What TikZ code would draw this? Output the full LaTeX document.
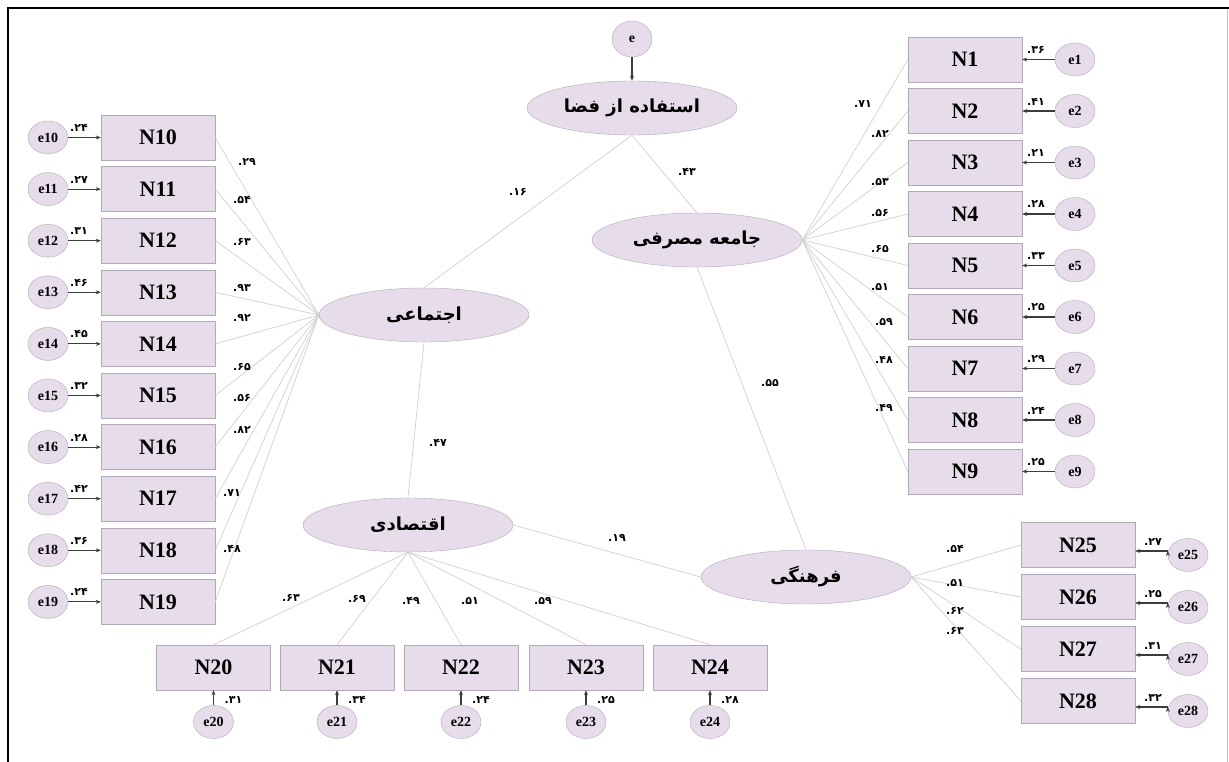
\documentclass[tikz,border=0pt]{standalone}
\usepackage{fontspec}
\setmainfont{Liberation Serif}
\newfontfamily\farsifont[Script=Arabic]{DejaVu Sans}
\newfontfamily\digitfont{DejaVu Sans}
\TeXXeTstate=1
\usetikzlibrary{arrows.meta, shapes.geometric}
\definecolor{boxfill}{RGB}{231,221,234}
\definecolor{boxline}{RGB}{178,168,184}
\definecolor{pathgray}{RGB}{208,208,208}
\definecolor{errgray}{RGB}{60,60,60}
\newcommand{\rtltxt}[1]{\beginR #1\endR}
\tikzset{
  obs/.style={rectangle, draw=boxline, fill=boxfill, minimum width=114pt, minimum height=45pt, font=\fontsize{22}{22}\selectfont\bfseries},
  latent/.style={ellipse, draw=boxline, fill=boxfill, minimum width=210pt, minimum height=54pt, font=\farsifont\fontsize{18}{18}\selectfont\bfseries},
  err/.style={ellipse, draw=boxline, fill=boxfill, minimum width=40pt, minimum height=33pt, inner sep=0pt, font=\fontsize{14}{14}\selectfont\bfseries},
  coef/.style={inner sep=1pt, font=\digitfont\fontsize{11}{11}\selectfont\bfseries},
  loadline/.style={draw=pathgray, line width=0.7pt},
  errarrow/.style={draw=errgray, line width=1.1pt, -{Stealth[length=5pt, width=4pt]}},
}
\begin{document}
\begin{tikzpicture}[x=1pt, y=-1pt]
\useasboundingbox (0,0) rectangle (1229,762);
\draw[line width=2pt] (1229,8) -- (8,8) -- (8,762);
\draw[gray!50] (1227,9) -- (1227,762);

\node[latent] (fazaa) at (632,108) {\rtltxt{استفاده از فضا}};
\node[latent] (jameh) at (697,240) {\rtltxt{جامعه مصرفی}};
\node[latent] (ejtemai) at (424,315) {\rtltxt{اجتماعی}};
\node[latent] (eghtesadi) at (408,525) {\rtltxt{اقتصادی}};
\node[latent] (farhangi) at (806,577) {\rtltxt{فرهنگی}};
\node[err, minimum height=36pt] (e) at (632,39) {e};
\path[errarrow] (e) edge (fazaa);

\path[loadline] (fazaa.south) edge (ejtemai.north)
                (fazaa.south) edge (jameh.north)
                (jameh.south) edge (farhangi.north)
                (ejtemai.south) edge (eghtesadi.north)
                (eghtesadi.east) edge (farhangi.west);
\node[coef] (p1) at (518,192) {.۱۶};
\node[coef] (p2) at (687,172) {.۴۳};
\node[coef] (p3) at (770,383) {.۵۵};
\node[coef] (p4) at (438,443) {.۴۷};
\node[coef] (p5) at (617,538) {.۱۹};

\foreach \n/\ev [count=\k from 0] in {10/۲۴,11/۲۷,12/۳۱,13/۴۶,14/۴۵,15/۳۲,16/۲۸,17/۴۲,18/۳۶,19/۲۴} {
  \node[obs] (N\n) at (158,{137.5+51.6*\k}) {N\n};
  \node[err] (e\n) at (48,{137.5+51.6*\k}) {e\n};
  \path[errarrow] (e\n) edge (N\n);
  \node[coef] (c\n) at (79,{128+51.6*\k}) {.\ev};
  \path[loadline] (ejtemai.west) edge (N\n.east);
}
\foreach \n/\lv/\lx/\ly in {10/۲۹/247/162,11/۵۴/242/200,12/۶۳/242/242,13/۹۳/242/288,14/۹۲/242/318,15/۶۵/242/367,16/۵۶/242/398,17/۸۲/242/430,18/۷۱/232/493,19/۴۸/232/549}
  \node[coef] (l\n) at (\lx,\ly) {.\lv};

\foreach \n/\ev [count=\k from 0] in {1/۳۶,2/۴۱,3/۲۱,4/۲۸,5/۳۳,6/۲۵,7/۲۹,8/۲۴,9/۲۵} {
  \node[obs] (N\n) at (965,{59.5+51.5*\k}) {N\n};
  \node[err] (e\n) at (1075,{59.5+51.5*\k}) {e\n};
  \path[errarrow] (e\n) edge (N\n);
  \node[coef] (c\n) at (1036,{50+51.5*\k}) {.\ev};
  \path[loadline] (jameh.east) edge (N\n.west);
}
\foreach \n/\lv/\lx/\ly in {1/۷۱/863/104,2/۸۲/880/134,3/۵۳/880/182,4/۵۶/880/213,5/۶۵/880/249,6/۵۱/880/287,7/۵۹/884/322,8/۴۸/884/360,9/۴۹/884/408}
  \node[coef] (l\n) at (\lx,\ly) {.\lv};

\foreach \n/\bx/\ev in {20/213.5/۳۱,21/337/۳۴,22/461/۲۴,23/586/۲۵,24/710/۲۸} {
  \node[obs] (N\n) at (\bx,667.5) {N\n};
  \node[err] (e\n) at (\bx,722) {e\n};
  \path[errarrow] (e\n) edge (N\n);
  \node[coef] (c\n) at ({\bx+20},700) {.\ev};
  \path[loadline] (eghtesadi.south) edge (N\n.north);
}
\foreach \n/\lv/\lx/\ly in {20/۶۳/291/598,21/۶۹/357/599,22/۴۹/411/601,23/۵۱/470/601,24/۵۹/543/601}
  \node[coef] (l\n) at (\lx,\ly) {.\lv};

\foreach \n/\ev [count=\k from 0] in {25/۲۷,26/۲۵,27/۳۱,28/۳۲} {
  \node[obs] (N\n) at (1078,{545+52*\k}) {N\n};
  \node[err] (e\n) at (1188,{555+52*\k}) {e\n};
  \coordinate (a\n) at ([yshift=4pt]e\n.west);
  \path[errarrow] (a\n) edge (a\n -| N\n.east);
  \node[coef] (c\n) at (1153,{542+52*\k}) {.\ev};
  \path[loadline] (farhangi.east) edge (N\n.west);
}
\foreach \n/\lv/\ly in {25/۵۴/549,26/۵۱/583,27/۶۲/611,28/۶۳/631}
  \node[coef] (l\n) at (955,\ly) {.\lv};
\end{tikzpicture}
\end{document}
